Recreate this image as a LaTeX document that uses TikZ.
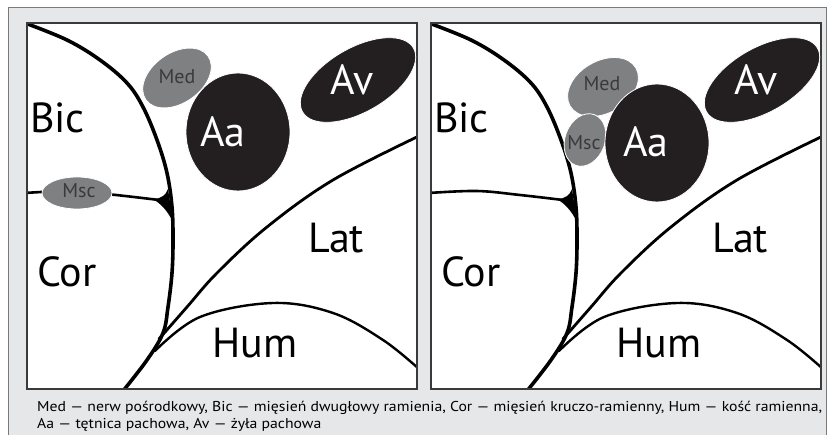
\documentclass[tikz,border=0pt]{standalone}
\usepackage{fontspec}
\usepackage{graphicx}
\setmainfont{PT Sans}
\usetikzlibrary{shapes.geometric}
\definecolor{boxgray}{HTML}{E6E7E8}
\definecolor{boxline}{HTML}{7A7A7A}
\definecolor{panelline}{HTML}{3A3A3A}
\definecolor{nervegray}{HTML}{7F8082}
\definecolor{nervetext}{HTML}{3A3A3C}
\definecolor{vesselblack}{HTML}{231F20}
\newsavebox\capone
\newsavebox\captwo

\begin{document}
% legend lines, set once so both get the same stretch
\sbox\capone{\fontsize{14.3}{14.3}\selectfont Med — nerw pośrodkowy, Bic — mięsień dwugłowy ramienia, Cor — mięsień kruczo-ramienny, Hum — kość ramienna,}%
\sbox\captwo{\fontsize{14.3}{14.3}\selectfont Aa — tętnica pachowa, Av — żyła pachowa}%
\begin{tikzpicture}[x=1pt,y=-1pt]
\tikzstyle{muscle} = [draw=black, line width=3.6pt, line cap=round]
\tikzstyle{septum} = [draw=black, line width=2.8pt, line cap=round]
\tikzstyle{nerve} = [ellipse, fill=nervegray, draw=white, line width=0.8pt, inner sep=0pt]
\tikzstyle{vessel} = [ellipse, fill=vesselblack, draw=white, line width=0.8pt, inner sep=0pt]
\tikzstyle{region} = [anchor=base west, inner sep=0pt, font=\fontsize{42}{42}\selectfont]
\tikzstyle{vessellabel} = [region, text=white]
\tikzstyle{nervelabel} = [anchor=base, inner sep=0pt, text=nervetext, font=\fontsize{20}{20}\selectfont]
\tikzstyle{caption} = [anchor=base west, inner sep=0pt]

\useasboundingbox (0,0) rectangle (827,435);
\fill[white] (0,0) rectangle (827,435);
\draw[fill=boxgray, draw=boxline, line width=0.8pt] (8,7) rectangle (826,445);

% both cross-sections share the muscle outlines
\foreach \ox in {27,431} {
  \begin{scope}[shift={(\ox,23)}]
    \fill[white] (0,0) rectangle (390,366);
    \begin{scope}
      \clip (0,0) rectangle (390,366);
      % biceps / coracobrachialis border
      \draw[muscle] plot[smooth, tension=0.6] coordinates {(-2,0) (40,17) (73,37) (100,60) (116,84) (130,117) (140,150) (145,184) (146,217) (145,250) (141,284) (136,310) (120,337) (96,368)};
      % lateral head
      \draw[septum] plot[smooth, tension=0.6] coordinates {(132,316) (160,284) (190,250) (240,204) (306,157) (392,113)};
      % humerus
      \draw[septum, line width=2.4pt] plot[smooth, tension=0.6] coordinates {(128,328) (173,294) (246,280) (306,290) (356,317) (392,346)};
      % septum between Bic and Cor
      \draw[septum, line width=2.6pt] plot[smooth, tension=0.6] coordinates {(-2,170) (46,168) (89,172) (132,177)};
      \fill[black] (126,176) .. controls (134,176) and (139,172) .. (141,166) -- (146,199) .. controls (140,187) and (134,181) .. cycle;
    \end{scope}
    \draw[panelline, line width=1.2pt] (0,0) rectangle (390,366);
    \node[region] (bic\ox) at (3,110) {Bic};
    \node[region] (cor\ox) at (10,264) {Cor};
    \node[region] (lat\ox) at (281,230) {Lat};
    \node[region] (hum\ox) at (185,335) {Hum};
    \node[vessel, minimum width=128pt, minimum height=64pt, rotate=30] (av\ox) at (331,57) {};
    \node[vessellabel] (avtext\ox) at (303,72) {Av};
  \end{scope}
}

% left: Msc on the septum
\begin{scope}[shift={(27,23)}]
  \node[nerve, minimum width=70pt, minimum height=32pt] (msc) at (50,170) {};
  \node[nervelabel] (msctext) at (52,175) {Msc};
  \node[nerve, minimum width=76pt, minimum height=50pt, rotate=35] (med) at (150,55) {};
  \node[nervelabel] (medtext) at (150,61) {Med};
  \node[vessel, minimum width=104pt, minimum height=118pt] (aa) at (211,109) {};
  \node[vessellabel] (aatext) at (173,124) {Aa};
\end{scope}

% right: Msc beside the artery
\begin{scope}[shift={(431,23)}]
  \node[nerve, minimum width=76pt, minimum height=52pt, rotate=30] (med2) at (172,64) {};
  \node[nervelabel] (medtext2) at (171,68) {Med};
  \node[nerve, minimum width=54pt, minimum height=40pt, rotate=70] (msc2) at (154,117) {};
  \node[nervelabel] (msctext2) at (153,127) {Msc};
  \node[vessel, minimum width=104pt, minimum height=118pt] (aa2) at (226,120) {};
  \node[vessellabel] (aatext2) at (192,134) {Aa};
\end{scope}

% legend, stretched so the first line fills the box
\pgfmathsetmacro\capscale{785/\the\wd\capone}
\node[caption] (cap1) at (37,411.5) {\scalebox{\capscale}[1]{\usebox\capone}};
\node[caption] (cap2) at (37,428) {\scalebox{\capscale}[1]{\usebox\captwo}};
\end{tikzpicture}
\end{document}
